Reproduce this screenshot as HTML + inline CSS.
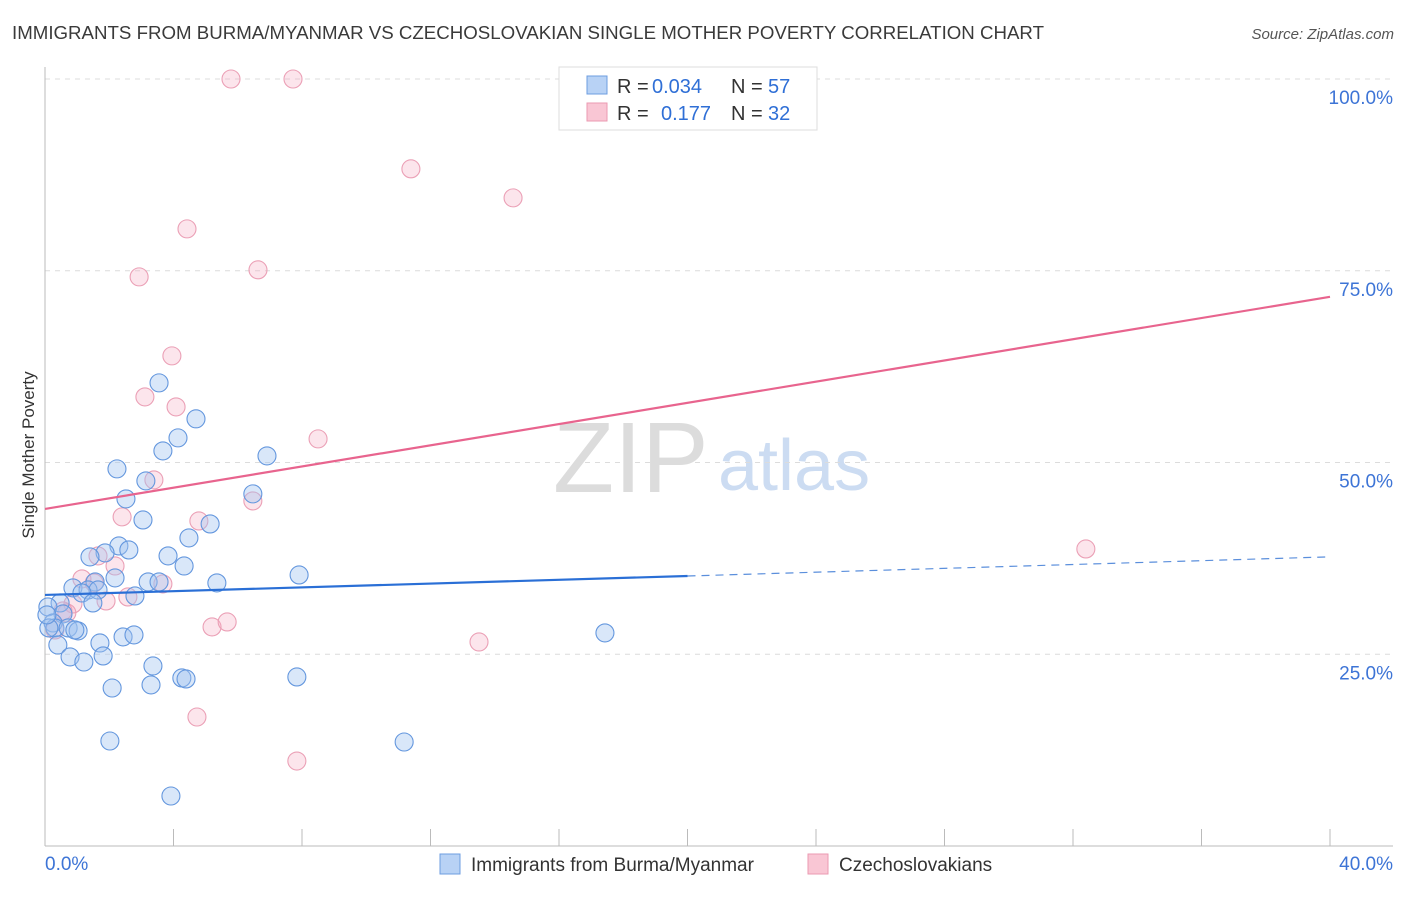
<!DOCTYPE html>
<html><head><meta charset="utf-8"><style>
body{margin:0;background:#fff;font-family:"Liberation Sans",sans-serif;}
svg text{font-family:"Liberation Sans",sans-serif;}
</style></head><body>
<svg id="c" width="1406" height="892" xmlns="http://www.w3.org/2000/svg">
<text x="12" y="39" font-size="18" fill="#3a3a3a" textLength="1032" lengthAdjust="spacingAndGlyphs">IMMIGRANTS FROM BURMA/MYANMAR VS CZECHOSLOVAKIAN SINGLE MOTHER POVERTY CORRELATION CHART</text>
<text x="1394" y="39" font-size="15" fill="#555" font-style="italic" text-anchor="end">Source: ZipAtlas.com</text>
<g>
<text x="553" y="492" font-size="100" fill="#dcdcdc" font-family="Liberation Serif">ZIP</text>
<text x="718" y="490" font-size="72" fill="#ccdcf2">atlas</text>
</g>
<g id="grid"></g>
<g id="axes"></g>
<g id="marks"></g>
<text transform="translate(34,455) rotate(-90)" font-size="17" fill="#333" text-anchor="middle">Single Mother Poverty</text>
<g>
<rect x="559" y="67" width="258" height="63" fill="#fff" stroke="#ddd"/>
<rect x="587" y="76" width="20" height="18" fill="#b8d2f5" stroke="#6d9de0"/>
<rect x="587" y="103" width="20" height="18" fill="#f9c6d4" stroke="#eb9ab2"/>
<g font-size="20" fill="#333">
<text x="617" y="93">R =</text>
<text x="652" y="93" fill="#2f6fd6">0.034</text>
<text x="731" y="93">N =</text>
<text x="768" y="93" fill="#2f6fd6">57</text>
<text x="617" y="120">R =</text>
<text x="661" y="120" fill="#2f6fd6">0.177</text>
<text x="731" y="120">N =</text>
<text x="768" y="120" fill="#2f6fd6">32</text>
</g>
</g>
<g>
<rect x="440" y="854" width="20" height="20" fill="#b8d2f5" stroke="#6d9de0"/>
<text x="471" y="871" font-size="19" fill="#333">Immigrants from Burma/Myanmar</text>
<rect x="808" y="854" width="20" height="20" fill="#f9c6d4" stroke="#eb9ab2"/>
<text x="839" y="871" font-size="19" fill="#333">Czechoslovakians</text>
</g>
</svg>
<script>
const xTickVals=[0,4,8,12,16,20,24,28,32,36,40];
const yTickVals=[25,50,75,100];
const yTickLabels=["25.0%","50.0%","75.0%","100.0%"];
const xEndLabels=["0.0%","40.0%"];
const blueX=[3.55,4.70,4.14,3.67,6.91,2.24,3.14,6.47,2.52,3.05,5.14,4.48,2.30,2.61,1.87,1.40,3.83,4.33,7.91,2.18,3.21,3.55,5.35,1.56,0.87,1.34,1.65,1.15,2.80,1.49,0.47,0.09,0.56,0.25,0.31,0.72,1.03,0.93,2.43,2.77,1.71,0.40,0.78,1.81,1.21,3.36,4.26,4.39,7.84,2.09,3.30,17.43,2.02,11.18,3.92,0.12,0.06];
const blueY=[60.38,55.69,53.21,51.51,50.86,49.17,47.60,45.91,45.25,42.51,41.99,40.17,39.12,38.60,38.21,37.69,37.82,36.51,35.34,34.95,34.43,34.43,34.30,34.43,33.65,33.38,33.38,32.99,32.60,31.69,31.69,31.17,30.26,29.08,28.43,28.43,28.04,28.17,27.26,27.52,26.47,26.21,24.65,24.78,23.99,23.47,21.91,21.78,22.04,20.60,21.00,27.78,13.69,13.56,6.52,28.43,30.13];
const pinkX=[5.79,7.72,11.39,14.57,4.42,2.93,6.63,3.95,3.11,4.08,8.50,3.39,6.47,2.40,4.79,32.40,1.65,2.18,1.15,1.53,3.67,2.58,1.90,0.87,0.56,0.68,5.20,5.67,0.31,13.51,4.73,7.84];
const pinkY=[100,100,88.29,84.50,80.46,74.20,75.12,63.90,58.55,57.25,53.08,47.73,44.99,42.91,42.38,38.73,37.82,36.51,34.82,34.30,34.17,32.47,31.95,31.56,30.65,30.39,28.56,29.21,28.17,26.60,16.82,11.08];
const pinkTrend=[43.95,71.6];
const blueTrend=[32.73,35.2,37.7];
const blueTrendX=[0,20,40];

const NS="http://www.w3.org/2000/svg";
const X=v=>45+v*(1330-45)/40;
const Y=v=>846-v*(846-79)/100;
function mk(tag,attrs,parent){const e=document.createElementNS(NS,tag);for(const k in attrs)e.setAttribute(k,attrs[k]);document.getElementById(parent).appendChild(e);return e;}

yTickVals.forEach((v,i)=>{
 const l=mk('line',{x1:45,x2:1393,y1:Y(v),y2:Y(v),stroke:'#dcdcdc','stroke-dasharray':'5,5'},'grid');
 
 
 const t=mk('text',{x:1393,y:Y(v)+25,'font-size':19,fill:'#3d74d6','text-anchor':'end'},'grid');
 t.textContent=yTickLabels[i];
 
 
});
const ax=mk('line',{x1:45,x2:45,y1:67,y2:846,stroke:'#bbb'},'axes');


const bx=mk('line',{x1:45,x2:1393,y1:846,y2:846,stroke:'#bbb'},'axes');


xTickVals.forEach(v=>{
 const t=mk('line',{x1:X(v),x2:X(v),y1:829,y2:846,stroke:'#bbb'},'axes');
 
 
});
const xl0=mk('text',{x:45,y:870,'font-size':19,fill:'#3d74d6'},'axes');
xl0.textContent=xEndLabels[0];


const xl1=mk('text',{x:1393,y:870,'font-size':19,fill:'#3d74d6','text-anchor':'end'},'axes');
xl1.textContent=xEndLabels[1];



pinkX.forEach((x,i)=>{
 const c=mk('circle',{cx:X(x),cy:Y(pinkY[i]),r:9,fill:'rgba(246,170,192,0.3)',stroke:'#eba0b6','stroke-width':1.1},'marks');
 
 
});
blueX.forEach((x,i)=>{
 const c=mk('circle',{cx:X(x),cy:Y(blueY[i]),r:9,fill:'rgba(160,196,240,0.4)',stroke:'#6497de','stroke-width':1.1},'marks');
 
 
});
const pl=mk('line',{x1:X(0),y1:Y(pinkTrend[0]),x2:X(40),y2:Y(pinkTrend[1]),stroke:'#e8648e','stroke-width':2.2},'marks');


const bl=mk('line',{x1:X(blueTrendX[0]),y1:Y(blueTrend[0]),x2:X(blueTrendX[1]),y2:Y(blueTrend[1]),stroke:'#2a6fd6','stroke-width':2.2},'marks');


const bd=mk('line',{x1:X(blueTrendX[1]),y1:Y(blueTrend[1]),x2:X(blueTrendX[2]),y2:Y(blueTrend[2]),stroke:'#5b8fdc','stroke-width':1.2,'stroke-dasharray':'8,6'},'marks');


</script>
</body></html>
